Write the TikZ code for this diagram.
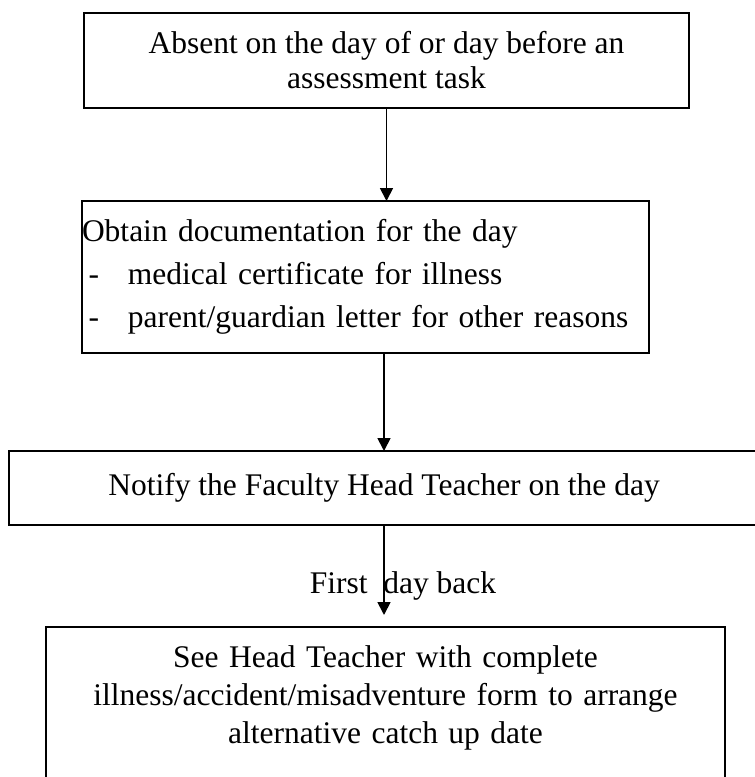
\documentclass[tikz,border=0pt]{standalone}
\usepackage{fontspec}
\setmainfont{Liberation Serif}
\usetikzlibrary{arrows.meta}
\tikzset{
  box/.style={draw, line width=1.8pt, inner sep=0pt, outer sep=0pt},
}
\begin{document}
\begin{tikzpicture}[x=1pt, y=-1pt, font=\fontsize{31.5}{35}\selectfont, line join=miter, >={Triangle[width=13pt,length=13pt]}]
			\useasboundingbox (0,0) rectangle (755,777);
			\node[box, minimum width=605pt, minimum height=95pt, align=center] (absent) at (386.5,60.5) {Absent on the day of or day before an\\assessment task};
			\node[box, minimum width=567pt, minimum height=152pt, text width=567pt, align=left, font=\fontsize{31.5}{43}\selectfont] (docs) at (365.5,277) {Obtain documentation for the day\\\makebox[46pt][l]{\hspace*{6.5pt}-}medical certificate for illness\\\makebox[46pt][l]{\hspace*{6.5pt}-}parent/guardian letter for other reasons};
			\node[box, minimum width=750pt, minimum height=74pt] (notify) at (384,488) {Notify the Faculty Head Teacher on the day};
			\node[box, anchor=north, text width=679pt, align=center, inner ysep=19pt, text height=21pt, text depth=120pt, font=\fontsize{31.5}{38}\selectfont] (seeht) at (385.5,627) {See Head Teacher with complete\\illness/accident/misadventure form to arrange\\alternative catch up date};
			\node[anchor=base] (firstday) at (403,593) {First\ \ day back};
			\draw[->, line width=1.8pt] (absent.south) -- (absent.south |- docs.north);
			\draw[->, line width=1.8pt] (notify.north |- docs.south) -- (notify.north);
			\draw[->, line width=1.8pt, shorten >=12pt] (notify.south) -- (notify.south |- seeht.north);
		\end{tikzpicture}
\end{document}
